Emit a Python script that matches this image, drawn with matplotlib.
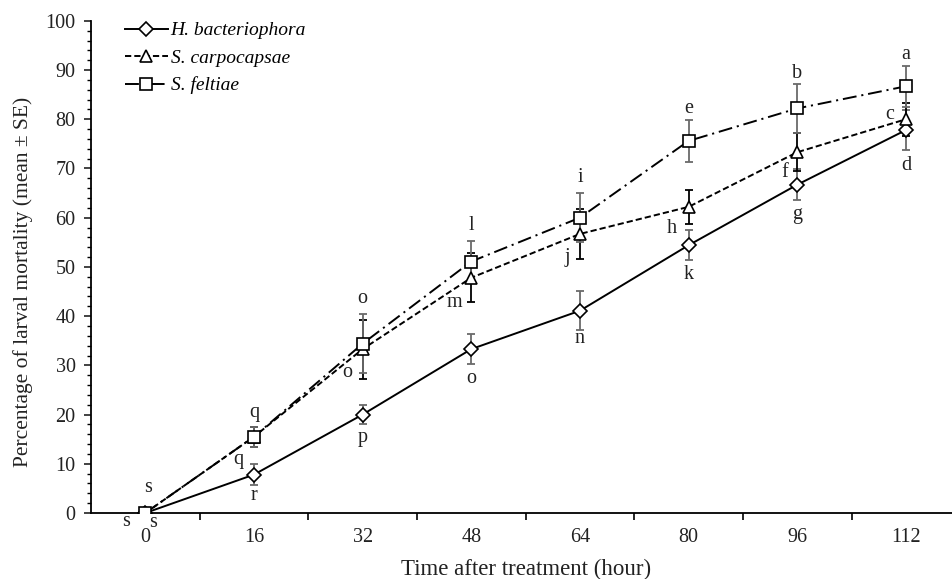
import numpy as np
import matplotlib
matplotlib.use('Agg')
import matplotlib.pyplot as plt
from matplotlib.ticker import MultipleLocator, FixedLocator

#%% DATA
hours = ['0', '16', '32', '48', '64', '80', '96', '112']

hb_mean = [0, 7.8, 20.0, 33.3, 41.1, 54.4, 66.7, 77.8]
hb_err = [0, 2.1, 2.0, 3.0, 4.0, 3.0, 3.2, 4.0]
hb_letters = ['s', 'r', 'p', 'o', 'n', 'k', 'g', 'd']

sc_mean = [0, 15.5, 33.3, 47.8, 56.7, 62.2, 73.3, 80.0]
sc_err = [0, 2.0, 6.0, 5.0, 5.0, 3.5, 3.9, 3.3]
sc_letters = ['s', 'q', 'o', 'm', 'j', 'h', 'f', 'c']

sf_mean = [0, 15.5, 34.4, 51.1, 60.0, 75.6, 82.2, 86.7]
sf_err = [0, 2.0, 6.0, 4.2, 5.0, 4.2, 5.0, 4.2]
sf_letters = ['s', 'q', 'o', 'l', 'i', 'e', 'b', 'a']

# letter offsets in pixels from each point
hb_off = [(8, -10), (0, -21), (0, -23), (0, -29), (0, -28), (0, -29), (0, -30), (0, -35)]
sc_off = [(-19, -9), (-16, -23), (-15, -23), (-17, -25), (-13, -24), (-17, -22), (-12, -20), (-16, 5)]
sf_off = [(3, 25), (0, 24), (0, 45), (0, 36), (0, 40), (0, 32), (0, 35), (0, 32)]

#%% PLOT
FS = 14.5
plt.rcParams['font.family'] = ['Liberation Serif', 'DejaVu Serif']
plt.rcParams['font.size'] = FS
plt.rcParams['lines.scale_dashes'] = False

fig = plt.figure(figsize=(9.53, 5.79), dpi=100)
ax = fig.add_axes([0.0955, 0.114, 0.912, 0.85])

x = np.arange(len(hours))

series = [
    ('H. bacteriophora', hb_mean, hb_err, hb_letters, hb_off, 'D', 7.5, '-', None, '#6a6a6a'),
    ('S. carpocapsae', sc_mean, sc_err, sc_letters, sc_off, '^', 8.5, '--', (4.5, 2.2), 'black'),
    ('S. feltiae', sf_mean, sf_err, sf_letters, sf_off, 's', 8, '-.', (10, 3.5, 1.5, 3.5), '#6a6a6a'),
]

handles = []
for name, m, e, letters, offs, mk, ms, ls, dashes, ecol in series:
    ax.errorbar(x, m, yerr=e, fmt='none', ecolor=ecol, elinewidth=1.3,
                capsize=3, capthick=1.3, zorder=2)
    kw = dict(color='black', lw=1.4, marker=mk, ms=ms, mfc='white', mec='black',
              mew=1.2, zorder=3, label=name)
    if dashes is not None:
        kw['dashes'] = dashes
    line, = ax.plot(x, m, **kw)
    handles.append(line)
    for xi, yi, lt, (dx, dy) in zip(x, m, letters, offs):
        ax.annotate(lt, (xi, yi), xytext=(dx, dy), textcoords='offset pixels',
                    ha='center', va='center', fontsize=FS, color='#222222')

ax.set_xlim(-0.5, 7.5)
ax.set_ylim(0, 100)
ax.set_xticks(x)
ax.set_xticklabels(hours)
ax.xaxis.set_minor_locator(FixedLocator(np.arange(0.5, 7.6, 1)))
ax.tick_params(axis='x', which='major', length=0, pad=11)
ax.tick_params(axis='x', which='minor', length=5, width=1.2, direction='out')
ax.yaxis.set_major_locator(MultipleLocator(10))
ax.yaxis.set_minor_locator(MultipleLocator(2))
ax.tick_params(axis='y', which='major', length=5, width=1.2, direction='out', pad=6)
ax.tick_params(axis='y', which='minor', length=3, width=1.0, direction='out')
ax.tick_params(labelsize=FS, colors='#222222')

for s in ['top', 'right']:
    ax.spines[s].set_visible(False)
for s in ['left', 'bottom']:
    ax.spines[s].set_linewidth(1.3)

ax.set_xlabel('Time after treatment (hour)', fontsize=16.5, labelpad=8, color='#222222')
ax.set_ylabel('Percentage of larval mortality (mean ± SE)', fontsize=15.5, labelpad=9,
              color='#222222', y=0.47)

ax.legend(handles=handles, loc='upper left', bbox_to_anchor=(0.039, 0.998),
          frameon=False, borderpad=0, borderaxespad=0, handlelength=2.2,
          handletextpad=0.15, labelspacing=0.5,
          prop={'family': 'Liberation Serif', 'style': 'italic', 'size': 14})

fig.savefig('out.png', dpi=100)
